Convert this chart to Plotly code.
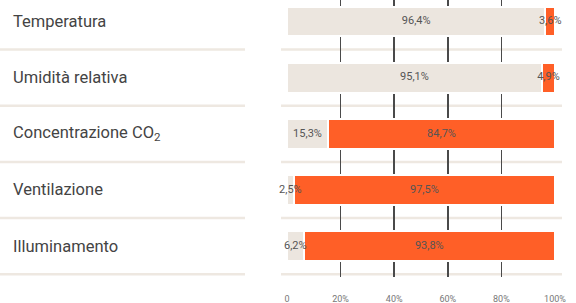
import plotly.graph_objects as go

categories = ["Temperatura", "Umidità relativa", "Concentrazione CO<sub>2</sub>", "Ventilazione", "Illuminamento"]
beige_vals = [96.4, 95.1, 15.3, 2.5, 6.2]
orange_vals = [3.6, 4.9, 84.7, 97.5, 93.8]
tick_vals = [0, 20, 40, 60, 80, 100]
tick_text = ["0", "20%", "40%", "60%", "80%", "100%"]

BEIGE = "#ECE6DF"
ORANGE = "#FF5F27"
TXT = "#555555"

def fmt(v):
    return f"{v:.1f}".replace(".", ",") + "%"

ypos = list(range(len(categories)))

fig = go.Figure()
for vals, col in [(beige_vals, BEIGE), (orange_vals, ORANGE)]:
    fig.add_trace(go.Bar(
        x=vals, y=ypos, orientation="h", width=0.53,
        marker=dict(color=col, line=dict(color="white", width=2)),
        hoverinfo="skip", showlegend=False,
    ))

# labels centred in each segment, drawn above all bars
label_x = [b / 2 for b in beige_vals] + [b + o / 2 for b, o in zip(beige_vals, orange_vals)]
label_y = ypos + ypos
label_t = [fmt(v) for v in beige_vals] + [fmt(v) for v in orange_vals]
fig.add_trace(go.Scatter(
    x=label_x, y=label_y, text=label_t, mode="text",
    textposition="middle center", cliponaxis=False,
    textfont=dict(family="Roboto", size=11, color=TXT),
    hoverinfo="skip", showlegend=False,
))

L, R, T, B = 287, 21, 0, 26
W, H = 576, 303
pw = W - L - R

def px_to_paper(p):
    return (p - L) / pw

shapes = []
for i in range(len(categories)):
    yv = i + 0.5
    for x0, x1 in [(0, 245), (281, 562)]:
        shapes.append(dict(type="line", xref="paper", yref="y",
                           x0=px_to_paper(x0), x1=px_to_paper(x1), y0=yv, y1=yv,
                           line=dict(color="#EEE8E1", width=2.5), layer="below"))

annotations = []
for i, c in enumerate(categories):
    annotations.append(dict(x=px_to_paper(11), y=i, xref="paper", yref="y",
                            text=c, showarrow=False, xanchor="left", yanchor="middle",
                            font=dict(family="Roboto", size=16.5, color="#444444")))

fig.update_layout(
    barmode="stack", bargap=0,
    width=W, height=H, margin=dict(l=L, r=R, t=T, b=B),
    paper_bgcolor="white", plot_bgcolor="white",
    shapes=shapes, annotations=annotations,
    xaxis=dict(range=[0, 100], tickvals=tick_vals, ticktext=tick_text,
               showgrid=True, gridcolor="#4A4A4A", gridwidth=1.5, zeroline=False,
               showline=False, ticks="", ticklabelstandoff=15,
               tickfont=dict(family="Roboto", size=9, color="#777777"), fixedrange=True),
    yaxis=dict(range=[4.55, -0.383], showticklabels=False, showgrid=False,
               zeroline=False, showline=False, fixedrange=True),
)

fig.write_html("out.html", config={"displayModeBar": False, "staticPlot": True},
               post_script="document.body.style.margin='0';document.body.style.overflow='hidden';")
